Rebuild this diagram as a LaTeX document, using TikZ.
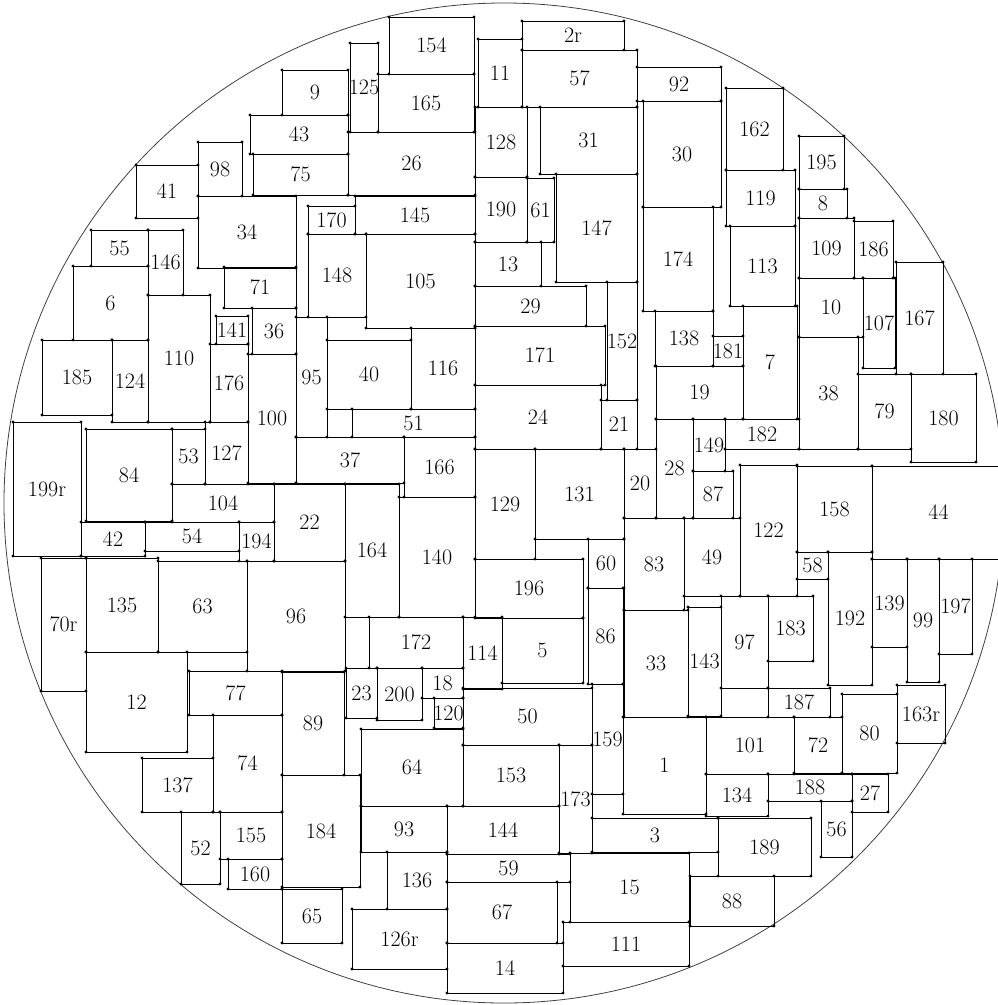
\documentclass[tikz,border=0pt]{standalone}
\usepackage{tikz}
\usetikzlibrary{calc}
\tikzset{
  blk/.style={draw, line width=0.8pt},
  pin/.style={fill=black},
  tag/.style={font=\fontsize{22}{22}\selectfont, inner sep=0pt},
  rim/.style={draw=black!75, line width=0.8pt},
}

\begin{document}
\begin{tikzpicture}[x=1pt, y=-1pt]
  \useasboundingbox (0,0) rectangle (998,1005);
  \draw[rim] (504,503) circle (500pt);
  % label / left / top / right / bottom
  \foreach \t/\xa/\ya/\xb/\yb in {
    2r/522/21/624/50, 57/522/50/637/107, 11/478/39/522/107, 154/389/17/474/74,
    125/350/43/378/132, 165/378/74/474/132, 9/282/70/348/115, 43/250/115/348/154,
    75/253/154/348/195, 26/348/132/475/195, 92/637/67/721/101, 30/643/101/721/207,
    162/726/88/783/170, 119/726/170/795/226, 113/730/226/795/306, 195/799/136/844/189,
    8/799/189/847/218, 109/799/218/854/278, 186/854/221/893/278, 10/799/278/863/337,
    107/863/278/895/368, 167/896/262/943/374, 128/475/107/527/177, 31/540/107/637/174,
    190/475/177/527/242, 61/527/178/554/242, 147/556/174/637/282, 13/475/242/541/286,
    29/475/286/586/326, 152/607/282/637/400, 171/475/326/605/385, 24/475/385/601/449,
    21/601/400/637/449, 174/643/207/713/311, 138/655/311/713/366, 181/713/336/743/366,
    19/656/366/743/419, 7/743/306/797/419, 38/799/337/858/449, 79/858/374/911/449,
    180/911/374/976/462, 182/725/419/799/449, 98/198/142/242/196, 41/136/165/198/218,
    34/198/196/296/268, 145/355/196/475/234, 170/308/206/355/234, 148/308/234/366/317,
    105/366/234/475/328, 55/91/230/148/266, 146/148/230/183/295, 6/73/266/148/340,
    71/224/267/296/308, 36/252/308/296/354, 141/216/316/248/344, 110/148/295/210/422,
    185/42/340/112/415, 124/112/340/148/422, 176/210/344/248/422, 95/296/317/327/437,
    40/327/340/411/409, 116/411/328/475/409, 51/352/409/475/437, 100/248/354/296/483,
    127/205/422/248/484, 53/172/429/205/484, 84/86/429/172/521, 199r/13/422/81/556,
    37/296/437/404/483, 166/404/437/475/497, 104/172/484/274/522, 22/274/484/345/561,
    164/345/484/399/617, 140/399/497/475/617, 42/81/522/145/556, 54/145/522/239/551,
    194/239/522/274/561, 70r/41/558/86/691, 135/86/558/158/652, 63/158/561/247/652,
    96/247/561/345/671, 12/86/652/187/752, 77/189/671/282/715, 74/213/715/282/812,
    137/142/758/213/812, 52/181/812/220/884, 155/220/812/282/859, 160/228/859/282/889,
    89/282/672/344/775, 184/282/775/360/887, 65/282/889/342/943, 172/369/617/463/668,
    23/346/668/377/718, 200/377/668/422/720, 18/422/668/463/698, 120/434/698/463/728,
    64/361/729/463/806, 93/361/806/447/852, 136/387/852/447/909, 126r/352/909/447/969,
    114/463/617/502/689, 5/502/618/583/683, 50/463/688/592/745, 153/463/745/559/806,
    144/447/806/559/854, 173/559/745/592/853, 59/447/854/570/882, 67/447/882/557/943,
    14/447/943/563/993, 15/570/853/689/922, 111/563/922/689/966, 3/592/818/718/852,
    159/592/684/623/794, 1/623/717/706/814, 101/706/717/794/774, 134/706/774/768/816,
    189/718/818/811/876, 88/690/876/774/926, 188/768/774/852/801, 27/852/774/888/812,
    56/821/801/852/857, 72/794/717/842/773, 80/842/694/897/773, 163r/897/685/945/743,
    187/768/688/830/717, 129/475/449/535/559, 131/535/449/624/539, 196/475/559/583/618,
    60/588/539/624/588, 86/588/588/623/684, 20/624/449/656/518, 28/656/419/693/518,
    149/693/419/725/471, 87/693/471/733/518, 83/624/518/684/610, 49/684/518/740/596,
    33/624/610/688/717, 143/688/607/721/716, 97/721/596/768/688, 122/740/465/797/596,
    158/797/466/872/552, 44/872/466/1005/559, 58/797/552/828/579, 192/828/552/872/685,
    139/872/559/907/647, 99/907/559/939/682, 197/939/559/972/654, 183/768/596/813/661}
  {
    \draw[blk] (\xa,\ya) rectangle (\xb,\yb);
    \fill[pin] (\xa,\ya) circle (1.6pt) (\xb,\ya) circle (1.6pt)
               (\xa,\yb) circle (1.6pt) (\xb,\yb) circle (1.6pt);
    \node[tag] (b\t) at ({(\xa+\xb)/2},{(\ya+\yb)/2}) {\t};
  }
\end{tikzpicture}
\end{document}
